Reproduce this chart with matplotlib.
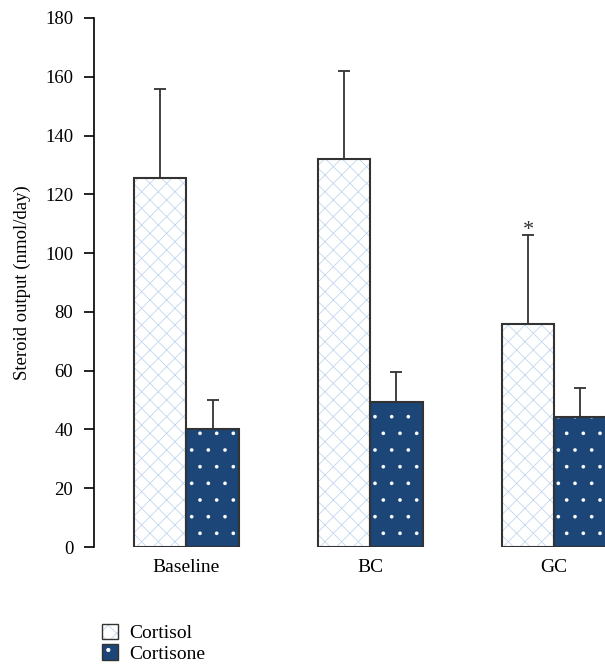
import matplotlib
matplotlib.use('Agg')
import matplotlib.pyplot as plt
from matplotlib.patches import Patch
import numpy as np

# Data
groups = ['Baseline', 'BC', 'GC']
cortisol = [125.7, 132.1, 76.0]
cortisol_err = [30.0, 30.0, 30.0]
cortisone = [40.0, 49.5, 44.1]
cortisone_err = [10.0, 10.0, 10.0]
signif = ['', '', '*']

plt.rcParams['font.family'] = ['Liberation Serif', 'DejaVu Serif']
plt.rcParams['hatch.linewidth'] = 0.6

fig = plt.figure(figsize=(6.05, 6.64), dpi=100)
ax = fig.add_axes([94 / 605, 117 / 664, 1 - 94 / 605, 529 / 664])

x = np.arange(len(groups))
w = 0.285
edge = '#333333'
light = '#c4d6ee'
dark = '#1c4677'

# cortisol: white with light blue cross hatch
ax.bar(x - w / 2, cortisol, w, color='white', edgecolor=light, hatch='xx', linewidth=0, zorder=2)
ax.bar(x - w / 2, cortisol, w, fill=False, edgecolor=edge, linewidth=1.5, zorder=3)
# cortisone: dark blue with small white dots
with plt.rc_context({'hatch.linewidth': 0.2}):
    ax.bar(x + w / 2, cortisone, w, color=dark, edgecolor='white', hatch='.', linewidth=0, zorder=2)
    dot_patch = Patch(facecolor=dark, edgecolor='white', hatch='.', linewidth=0)
ax.bar(x + w / 2, cortisone, w, fill=False, edgecolor=edge, linewidth=1.5, zorder=3)

# one sided error bars
ax.errorbar(x - w / 2, cortisol, yerr=[np.zeros(3), cortisol_err], fmt='none',
            ecolor=edge, elinewidth=1.3, capsize=4.3, capthick=1.3, zorder=1)
ax.errorbar(x + w / 2, cortisone, yerr=[np.zeros(3), cortisone_err], fmt='none',
            ecolor=edge, elinewidth=1.3, capsize=4.3, capthick=1.3, zorder=1)

for i, s in enumerate(signif):
    if s:
        ax.text(x[i] - w / 2, cortisol[i] + cortisol_err[i] - 1.5, s,
                ha='center', va='bottom', fontsize=16, color='#333333')

ax.set_xlim(-0.502, 2.276)
ax.set_ylim(0, 180)
ax.set_yticks(range(0, 181, 20))
ax.set_xticks(x)
ax.set_xticklabels(groups)
ax.tick_params(axis='x', length=0, pad=9, labelsize=14)
ax.tick_params(axis='y', direction='out', length=7, width=1.2, pad=8, labelsize=13.5)
for side in ['top', 'right', 'bottom']:
    ax.spines[side].set_visible(False)
ax.spines['left'].set_linewidth(1.2)
ax.set_ylabel('Steroid output (nmol/day)', fontsize=13.5, labelpad=10)

outline = Patch(fill=False, edgecolor=edge, linewidth=1.0)
handles = [(Patch(facecolor='white', edgecolor=light, hatch='xx', linewidth=0), outline),
           (dot_patch, outline)]
fig.legend(handles=handles, labels=['Cortisol', 'Cortisone'], loc='upper left',
           bbox_to_anchor=(88 / 605, 1 - 610 / 664),
           frameon=False, fontsize=14, handlelength=0.85, handleheight=0.85,
           handletextpad=0.55, labelspacing=0.1, borderpad=0.2)

fig.savefig('out.png', dpi=100)
